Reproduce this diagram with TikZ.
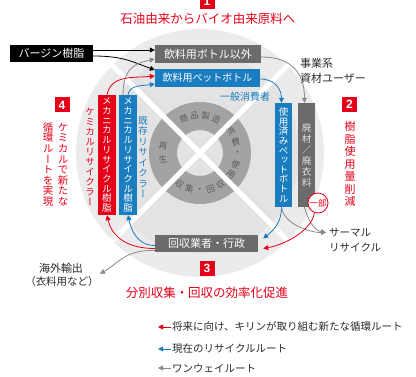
\documentclass[tikz,border=0pt]{standalone}
\usepackage{fontspec}
\setmainfont{Noto Sans CJK JP}
\newfontfamily\jpv[RawFeature=+vert]{Noto Sans CJK JP}
\newfontfamily\numfont{Liberation Sans}
\usetikzlibrary{arrows.meta,calc}
\definecolor{kred}{HTML}{E50019}
\definecolor{kblue}{HTML}{1A7DC0}
\definecolor{kgray}{HTML}{6B6B6B}
\definecolor{agray}{HTML}{8A8A8A}
\definecolor{disk1}{HTML}{EBEBEB}
\definecolor{disk2}{HTML}{E3E3E3}
\definecolor{ringc}{HTML}{A3A3A3}
\definecolor{ringt}{HTML}{5C5C5C}
\definecolor{txt}{HTML}{2A2A2A}
\definecolor{lgtxt}{HTML}{E0E0E0}
\ExplSyntaxOn
\NewDocumentCommand\vt{O{1.05em}m}
 {
  \vbox:n
   {
    \dim_set:Nn \baselineskip {#1}
    \dim_set:Nn \lineskiplimit {-\c_max_dim}
    \dim_set_eq:NN \lineskip \c_zero_dim
    \tl_map_inline:nn {#2} { \hbox_to_wd:nn {1em} { \hss ##1 \hss } }
   }
 }
\ExplSyntaxOff
\tikzset{
  hbox/.style={inner sep=0pt, text=white},
  vertbox/.style={inner sep=0pt, text=white, font=\jpv\fontsize{9.5}{10}\selectfont},
  arr/.style={line width=0.8pt, -{Triangle[length=5pt,width=5pt]}},
  numbox/.style={fill=kred, text=white, inner sep=0pt, minimum width=15pt, minimum height=15pt, font=\numfont\bfseries\fontsize{12}{12}\selectfont},
  ringtxt/.style={text=ringt, inner sep=0pt, font=\fontsize{8.6}{10}\selectfont},
  redtitle/.style={text=kred, inner sep=0pt, font=\fontsize{12.5}{14}\selectfont},
  plain/.style={text=txt, inner sep=0pt, font=\fontsize{10.5}{15}\selectfont},
  vred/.style={text=kred, inner sep=0pt},
}
\begin{document}
\begin{tikzpicture}[x=1pt,y=-1pt]
\useasboundingbox (0,0) rectangle (416,377);
% disk and ring
\fill[disk1] (200,153) circle[radius=124];
\fill[disk2] (200,153) circle[radius=100];
\fill[ringc,even odd rule] (200,153) circle[radius=51] circle[radius=23];
\draw[white,line width=5pt] (108,61) -- (292,245);
\draw[white,line width=5pt] (292,61) -- (108,245);
% ring labels
\foreach \c/\a [count=\i] in {商/115.5,品/98.5,製/81.5,造/64.5}
  \node[ringtxt, rotate=\a-90] (rta\i) at ({200+37.5*cos(\a)},{153-37.5*sin(\a)}) {\c};
\foreach \c/\a [count=\i] in {消/35,費/17.5,・/0,使/-17.5,用/-35}
  \node[ringtxt, rotate=\a] (rtb\i) at ({200+37.5*cos(\a)},{153-37.5*sin(\a)}) {\c};
\foreach \c/\a [count=\i] in {収/237,集/253.5,・/270,回/286.5,収/303}
  \node[ringtxt, rotate=\a+90] (rtc\i) at ({200+37.5*cos(\a)},{153-37.5*sin(\a)}) {\c};
\foreach \c/\a [count=\i] in {再/170,生/190}
  \node[ringtxt, rotate=\a-180] (rtd\i) at ({200+37.5*cos(\a)},{153-37.5*sin(\a)}) {\c};
% horizontal boxes
\node[hbox, fill=black, minimum width=83pt, minimum height=17pt, font=\fontsize{11}{13}\selectfont] (virgin) at (51.5,53.5) {バージン樹脂};
\node[hbox, fill=kgray, minimum width=106pt, minimum height=18pt, font=\fontsize{11}{13}\selectfont] (other) at (208,54) {飲料用ボトル以外};
\node[hbox, fill=kblue, minimum width=105pt, minimum height=18pt, font=\fontsize{10}{12}\selectfont] (pet) at (207.5,78) {飲料用ペットボトル};
\node[hbox, fill=kgray, minimum width=103pt, minimum height=17pt, font=\fontsize{11}{13}\selectfont] (collect) at (206.5,243.5) {回収業者・行政};
% vertical boxes
\node[vertbox, fill=kred, minimum width=18pt, minimum height=120pt] (mred) at (107,155) {\vt[9.7pt]{メカニカルリサイクル樹脂}};
\node[vertbox, fill=kblue, minimum width=18pt, minimum height=120pt] (mblue) at (128,155) {\vt[9.7pt]{メカニカルリサイクル樹脂}};
\node[vertbox, fill=kblue, minimum width=17pt, minimum height=104pt] (used) at (283.5,155) {\vt[9.6pt]{使用済みペットボトル}};
\node[vertbox, fill=kgray, text=lgtxt, minimum width=17pt, minimum height=104pt] (waste) at (306.5,155) {\vt[11pt]{廃材{\rmfamily ／}廃衣料}};
\node[circle, draw=kred, fill=white, line width=0.8pt, minimum size=20pt, inner sep=0pt, text=kred, font=\fontsize{8.5}{9}\selectfont] (ichibu) at (318,203) {一部};
% labels
\node[text=kblue, inner sep=0pt, font=\fontsize{10}{12}\selectfont] (consumer) at (245,97) {一般消費者};
\node[plain, align=left, anchor=west, font=\fontsize{11}{15}\selectfont] (biz) at (300,70.5) {事業系\\資材ユーザー};
\node[plain, align=left, anchor=west] (thermal) at (329,240.5) {サーマル\\リサイクル};
\node[plain, font=\fontsize{11}{13}\selectfont] (export1) at (61,268) {海外輸出};
\node[plain] (export2) at (62,282) {（衣料用など）};
\node[vred, font=\jpv\fontsize{9.5}{10}\selectfont] (chemr) at (90,157) {\vt[10pt]{ケミカルリサイクラー}};
\node[text=kblue, inner sep=0pt, font=\jpv\fontsize{9.5}{10}\selectfont] (exist) at (143,157) {\vt[10.5pt]{既存リサイクラー}};
% numbered themes
\node[numbox] (n1) at (207,1.5) {1};
\node[redtitle] (t1) at (208,19) {石油由来からバイオ由来原料へ};
\node[numbox] (n2) at (349.5,104.5) {2};
\node[vred, font=\jpv\fontsize{11}{12}\selectfont] (t2) at (350,164) {\vt[12.5pt]{樹脂使用量削減}};
\node[numbox] (n3) at (207,268.5) {3};
\node[redtitle] (t3) at (207,293) {分別収集・回収の効率化促進};
\node[numbox] (n4) at (62,105) {4};
\node[vred, font=\jpv\fontsize{10.5}{11}\selectfont] (t4a) at (63,164.5) {\vt[10.6pt]{ケミカルで新たな}};
\node[vred, font=\jpv\fontsize{10.5}{11}\selectfont] (t4b) at (48,164.5) {\vt[10.6pt]{循環ルートを実現}};
% arrows: supply
\draw[arr, black] (virgin.east |- 0,50) -- (other.west |- 0,50);
\draw[arr, black] (virgin.east |- 0,56) .. controls +(30,0) and +(-22,-8) .. (pet.west |- 0,70);
\draw[arr, agray] ($(mblue.north)+(-5,0)$) .. controls +(0,-28) and +(-18,4) .. (other.west |- 0,59);
\draw[arr, kred] (mred.north) .. controls +(4,-20) and +(-22,2) .. (pet.west |- 0,76);
\draw[arr, kblue] (mblue.north) .. controls +(2,-10) and +(-14,2) .. (pet.west |- 0,84);
\draw[arr, kblue] (pet.east |- 0,79) .. controls +(16,0) and +(0,-12) .. ($(used.north)+(-2,0)$);
\draw[arr, agray] (other.east |- 0,57) .. controls +(32,0) and +(0,-28) .. ($(waste.north)+(-2,0)$);
% arrows: after use
\draw[arr, kblue] ($(used.south)+(-2,0)$) .. controls +(0,16) and +(10,-8) .. ($(collect.east)+(5,-5)$);
\draw[arr, agray] ($(used.south)+(-2,0)$) .. controls +(2,16) and +(-18,0) .. ($(thermal.west)+(-3,-8)$);
\draw[arr, agray] ($(waste.south)+(-2,0)$) .. controls +(3,12) and +(-12,-2) .. ($(thermal.west)+(-3,-8)$);
\draw[arr, kred] (ichibu.250) .. controls +(-3,18) and +(22,-4) .. ($(collect.east)+(5,5)$);
% arrows: recycling
\draw[arr, kred] ($(collect.west)+(0,5)$) .. controls +(-32,0) and +(4,18) .. (mred.south);
\draw[arr, kblue] ($(collect.west)+(0,2)$) .. controls +(-18,0) and +(3,14) .. (mblue.south);
\draw[arr, agray] ($(collect.west)+(0,7)$) .. controls +(-30,-1) and +(18,-10) .. ($(export2.north east)+(1,-3)$);
% legend
\node[plain, anchor=west] (l1) at (172,327) {将来に向け、キリンが取り組む新たな循環ルート};
\node[plain, anchor=west] (l2) at (172,349) {現在のリサイクルルート};
\node[plain, anchor=west] (l3) at (172,368) {ワンウェイルート};
\draw[arr, kred] ($(l1.west)+(-1,0)$) -- +(-13,0);
\draw[arr, kblue] ($(l2.west)+(-1,0)$) -- +(-13,0);
\draw[arr, agray] ($(l3.west)+(-1,0)$) -- +(-13,0);
\end{tikzpicture}
\end{document}
